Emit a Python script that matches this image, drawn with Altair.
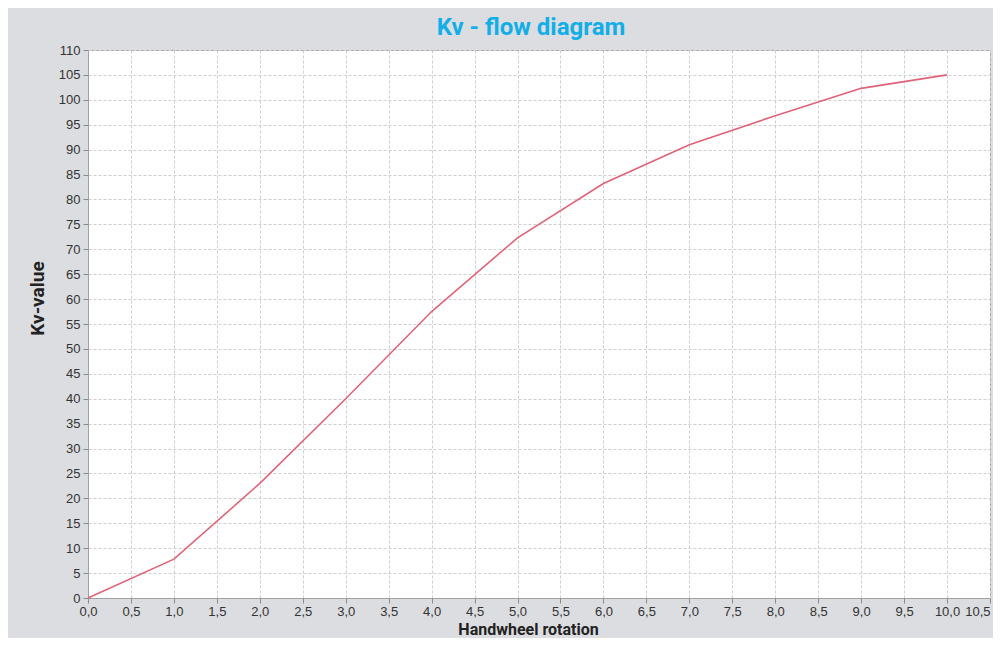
import altair as alt
import pandas as pd

rotation = [0, 1, 2, 3, 4, 5, 6, 7, 8, 9, 10]
kv_value = [0, 7.8, 23.0, 40.0, 57.5, 72.3, 83.2, 91.0, 96.8, 102.3, 105.0]
x_ticks = [i * 0.5 for i in range(22)]
y_ticks = list(range(0, 111, 5))

df = pd.DataFrame({"rotation": rotation, "kv": kv_value})

line = alt.Chart(df).mark_line(color="#e06378", strokeWidth=1.6).encode(
    x=alt.X(
        "rotation:Q",
        scale=alt.Scale(domain=[0, 10.5], nice=False, zero=False),
        axis=alt.Axis(
            values=x_ticks,
            labelExpr="replace(format(datum.value, '.1f'), '.', ',')",
            labelFlush=False,
            labelAlign={"condition": {"test": "datum.value >= 10.5", "value": "right"}, "value": "center"},
            labelPadding=2,
            title="Handwheel rotation",
            titleX=440,
            titleY=36,
            titleBaseline="alphabetic",
            titleAlign="center",
            titleFontSize=16,
        ),
    ),
    y=alt.Y(
        "kv:Q",
        scale=alt.Scale(domain=[0, 110], nice=False),
        axis=alt.Axis(
            values=y_ticks,
            title="Kv-value",
            titleX=-51,
            titleY=248,
            titleBaseline="middle",
            titleAlign="center",
            titleAngle=270,
        ),
    ),
)

chart = (
    line.properties(
        width=902,
        height=548,
        title=alt.Title(
            "Kv - flow diagram",
            color="#12aee8",
            font="Roboto",
            fontSize=24,
            fontWeight="bold",
            anchor="middle",
            dx=-8,
            offset=4,
        ),
        autosize=alt.AutoSizeParams(type="none"),
        padding={"left": 80, "top": 42, "right": 3, "bottom": 40},
        background="#dcdde0",
    )
    .configure_view(fill="white", stroke="#a0a0a0", strokeWidth=1)
    .configure_axis(
        grid=True,
        gridColor="#cfcfcf",
        gridDash=[3, 2],
        gridWidth=1,
        domainColor="#a0a0a0",
        tickColor="#8a8a8a",
        tickSize=5,
        labelFont="Liberation Sans",
        labelFontSize=13,
        labelColor="#333333",
        labelPadding=3,
        titleFont="Roboto",
        titleFontSize=19,
        titleFontWeight="bold",
        titleColor="#222222",
    )
)

chart.save("out.html", embed_options={"renderer": "svg", "actions": False})
